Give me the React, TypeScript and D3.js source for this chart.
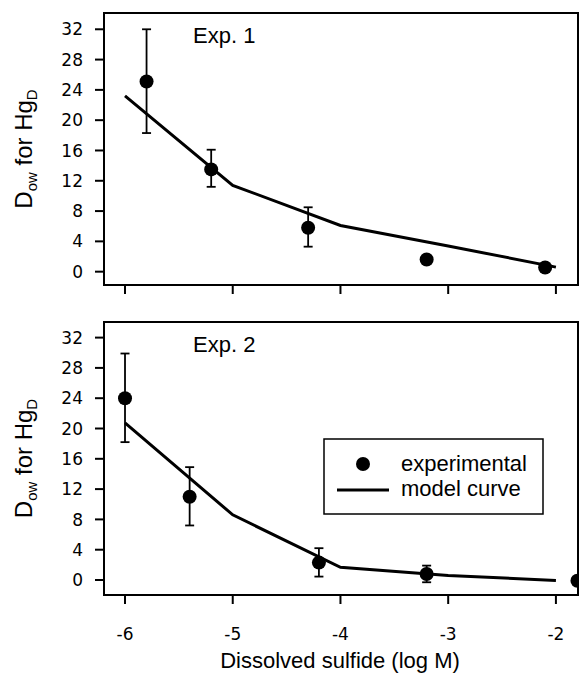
import * as d3 from "d3";

const xTicks = [-6, -5, -4, -3, -2];
const yTicks = [0, 4, 8, 12, 16, 20, 24, 28, 32];

// Exp. 1
const exp1X = [-5.8, -5.2, -4.3, -3.2, -2.1];
const exp1Y = [25.1, 13.5, 5.8, 1.6, 0.55];
const exp1Hi = [32, 16.1, 8.5, null, null];
const exp1Lo = [18.3, 11.2, 3.3, null, null];
const model1X = [-6, -5, -4, -3, -2];
const model1Y = [23.2, 11.4, 6.1, 3.4, 0.6];

// Exp. 2
const exp2X = [-6, -5.4, -4.2, -3.2, -1.8];
const exp2Y = [24.0, 11.0, 2.3, 0.8, -0.1];
const exp2Hi = [29.9, 14.9, 4.2, 1.9, null];
const exp2Lo = [18.2, 7.2, 0.45, -0.3, null];
const model2X = [-6, -5, -4, -3, -2];
const model2Y = [20.75, 8.6, 1.67, 0.6, -0.05];

const W = 579;
const H = 675;
const left = 104;
const right = 578;

const x = d3.scaleLinear().domain([-6.195, -1.795]).range([left, right]);

const sans = "'Liberation Sans', Arial, sans-serif";
const tickFont = "'DejaVu Sans', sans-serif";

type PanelProps = {
  top: number;
  bottom: number;
  yDomain: [number, number];
  px: number[];
  py: number[];
  hi: (number | null)[];
  lo: (number | null)[];
  mx: number[];
  my: number[];
  label: string;
  xLabels: boolean;
};

function Panel(p: PanelProps) {
  const y = d3.scaleLinear().domain(p.yDomain).range([p.bottom, p.top]);
  const path = d3
    .line<number>()
    .x((_, i) => x(p.mx[i]))
    .y((d) => y(d))(p.my);
  const midY = (p.top + p.bottom) / 2;

  return (
    <g>
      <rect
        x={left}
        y={p.top}
        width={right - left}
        height={p.bottom - p.top}
        fill="none"
        stroke="#000"
        strokeWidth={2}
      />
      {yTicks.map((t) => (
        <g key={"y" + t}>
          <line x1={left - 9} x2={left} y1={y(t)} y2={y(t)} stroke="#000" strokeWidth={2} />
          <text
            x={83}
            y={y(t)}
            dy="0.36em"
            textAnchor="end"
            fontFamily={tickFont}
            fontSize={17}
          >
            {t}
          </text>
        </g>
      ))}
      {xTicks.map((t) => (
        <g key={"x" + t}>
          <line x1={x(t)} x2={x(t)} y1={p.bottom} y2={p.bottom + 9} stroke="#000" strokeWidth={2} />
          {p.xLabels && (
            <text
              x={x(t)}
              y={p.bottom + 45}
              textAnchor="middle"
              fontFamily={tickFont}
              fontSize={17}
            >
              {t}
            </text>
          )}
        </g>
      ))}
      <text
        transform={`translate(32,${midY}) rotate(-90)`}
        textAnchor="middle"
        fontFamily={sans}
        fontSize={24}
      >
        D
        <tspan fontSize={15} dy={5}>ow</tspan>
        <tspan dy={-5}> for Hg</tspan>
        <tspan fontSize={15} dy={5}>D</tspan>
      </text>
      <text x={193} y={p.top + 30} fontFamily={sans} fontSize={22}>
        {p.label}
      </text>
      <path d={path ?? ""} fill="none" stroke="#000" strokeWidth={3} />
      {p.px.map((v, i) => {
        const h = p.hi[i];
        const l = p.lo[i];
        return (
          <g key={"p" + i}>
            {h !== null && l !== null && (
              <g stroke="#000" strokeWidth={1.8}>
                <line x1={x(v)} x2={x(v)} y1={y(h)} y2={y(l)} />
                <line x1={x(v) - 4.5} x2={x(v) + 4.5} y1={y(h)} y2={y(h)} />
                <line x1={x(v) - 4.5} x2={x(v) + 4.5} y1={y(l)} y2={y(l)} />
              </g>
            )}
            <circle cx={x(v)} cy={y(p.py[i])} r={7} fill="#000" />
          </g>
        );
      })}
    </g>
  );
}

export default function App() {
  return (
    <svg
      width={W}
      height={H}
      style={{ position: "absolute", left: 0, top: 0, background: "#fff" }}
    >
      <rect width={W} height={H} fill="#fff" />
      <Panel
        top={13}
        bottom={285}
        yDomain={[-1.76, 34.15]}
        px={exp1X}
        py={exp1Y}
        hi={exp1Hi}
        lo={exp1Lo}
        mx={model1X}
        my={model1Y}
        label="Exp. 1"
        xLabels={false}
      />
      <Panel
        top={322}
        bottom={595}
        yDomain={[-1.98, 34.06]}
        px={exp2X}
        py={exp2Y}
        hi={exp2Hi}
        lo={exp2Lo}
        mx={model2X}
        my={model2Y}
        label="Exp. 2"
        xLabels={true}
      />
      <g>
        <rect x={324} y={439} width={219} height={75} fill="#fff" stroke="#000" strokeWidth={1.5} />
        <circle cx={363} cy={464} r={7} fill="#000" />
        <line x1={337} x2={389} y1={490} y2={490} stroke="#000" strokeWidth={3} />
        <text x={401} y={471} fontFamily={sans} fontSize={22}>
          experimental
        </text>
        <text x={401} y={496} fontFamily={sans} fontSize={22}>
          model curve
        </text>
      </g>
      <text x={340} y={668} textAnchor="middle" fontFamily={sans} fontSize={22}>
        Dissolved sulfide (log M)
      </text>
    </svg>
  );
}
